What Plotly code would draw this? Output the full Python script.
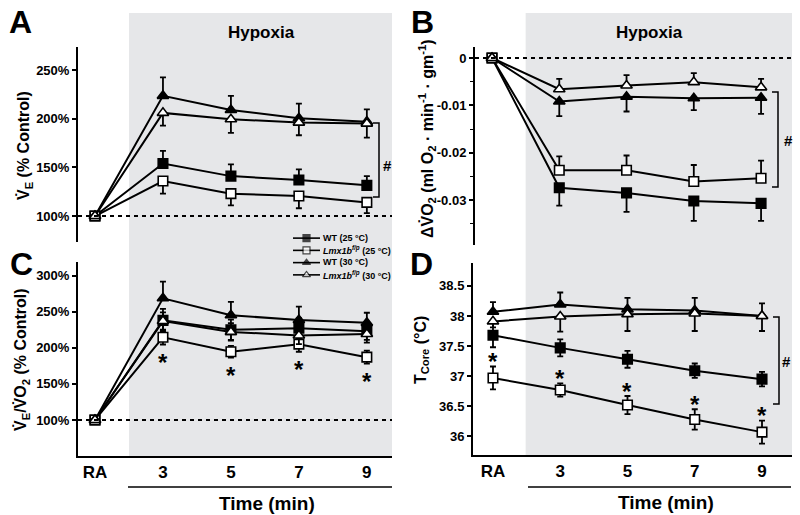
import plotly.graph_objects as go

W, H = 800, 515
FONT = "Liberation Sans, Arial, sans-serif"
GRAY = "#e6e7e9"


def px(x):
    return x / W


def py(y):
    return 1 - y / H


# ---------------- data ----------------
time_labels = ["RA", "3", "5", "7", "9"]
series_names = [
    "WT (25 °C)",
    "<i>Lmx1b</i><sup><i>f/p</i></sup> (25 °C)",
    "WT (30 °C)",
    "<i>Lmx1b</i><sup><i>f/p</i></sup> (30 °C)",
]

# Panel A: V_E (% control)
ve_wt25 = [100, 154, 141, 137, 131.5]
ve_wt25_err = [0, 13, 12, 11, 9.5]
ve_lmx25 = [100, 136, 123, 120.5, 114]
ve_lmx25_err = [0, 13, 12, 12.5, 11]
ve_wt30 = [100, 223.5, 209, 200.5, 197]
ve_wt30_err = [0, 19, 14.5, 15, 12.5]
ve_lmx30 = [100, 206, 199.5, 196, 195]
ve_lmx30_err = [0, 13, 14, 13, 14.5]

# Panel B: delta VO2
vo2_wt25 = [0, -0.0274, -0.0285, -0.0302, -0.0307]
vo2_wt25_err = [0, 0.0038, 0.0040, 0.0042, 0.0037]
vo2_lmx25 = [0, -0.0237, -0.0237, -0.0261, -0.0254]
vo2_lmx25_err = [0, 0.0029, 0.0031, 0.0035, 0.0037]
vo2_wt30 = [0, -0.0092, -0.0082, -0.0085, -0.0084]
vo2_wt30_err = [0, 0.0031, 0.0031, 0.0025, 0.0034]
vo2_lmx30 = [0, -0.0066, -0.0058, -0.0051, -0.0062]
vo2_lmx30_err = [0, 0.0022, 0.0022, 0.0019, 0.0018]

# Panel C: V_E/VO2 (% control)
ratio_wt25 = [100, 238, 225, 227, 223]
ratio_wt25_err = [0, 16, 14, 14, 12]
ratio_lmx25 = [100, 214.5, 194.5, 205, 187]
ratio_lmx25_err = [0, 10, 8, 10.5, 9]
ratio_wt30 = [100, 268.5, 245, 238.5, 234.5]
ratio_wt30_err = [0, 23, 18.5, 18.5, 14]
ratio_lmx30 = [100, 237, 222, 217, 219]
ratio_lmx30_err = [0, 12, 12, 12, 12]

# Panel D: core temperature
t_wt25 = [37.68, 37.47, 37.28, 37.09, 36.95]
t_wt25_err = [0.20, 0.14, 0.14, 0.12, 0.12]
t_lmx25 = [36.97, 36.77, 36.52, 36.28, 36.07]
t_lmx25_err = [0.19, 0.11, 0.15, 0.17, 0.19]
t_wt30 = [38.07, 38.19, 38.11, 38.09, 38.00]
t_wt30_err = [0.16, 0.20, 0.19, 0.21, 0.21]
t_lmx30 = [37.91, 37.99, 38.03, 38.04, 38.00]
t_lmx30_err = [0.10, 0.25, 0.28, 0.29, 0.25]

# significance markers (* vs WT at same temperature)
stars_c = ["3", "5", "7", "9"]
stars_d = ["RA", "3", "5", "7", "9"]

# ---------------- styles ----------------
SYMBOLS = ["square", "square", "triangle-up", "triangle-up"]
FILLS = ["black", "white", "black", "white"]
SIZES = [9.5, 9.5, 10, 10]

fig = go.Figure()


def add_series(xa, ya, vals, err, idx, direction):
    zeros = [0] * len(err)
    if direction == "up":
        ey = dict(type="data", symmetric=False, array=err, arrayminus=zeros)
    elif direction == "down":
        ey = dict(type="data", symmetric=False, array=zeros, arrayminus=err)
    else:
        ey = dict(type="data", symmetric=True, array=err)
    ey.update(color="black", thickness=1.8, width=3)
    fig.add_trace(go.Scatter(
        x=time_labels, y=vals, xaxis=xa, yaxis=ya, mode="lines+markers",
        line=dict(color="black", width=2),
        marker=dict(symbol=SYMBOLS[idx], size=SIZES[idx], color=FILLS[idx],
                    line=dict(color="black", width=1.6)),
        error_y=ey, showlegend=False, hoverinfo="skip"))


# Panel A
add_series("x", "y", ve_wt25, ve_wt25_err, 0, "up")
add_series("x", "y", ve_lmx25, ve_lmx25_err, 1, "down")
add_series("x", "y", ve_wt30, ve_wt30_err, 2, "up")
add_series("x", "y", ve_lmx30, ve_lmx30_err, 3, "down")
# Panel B
add_series("x2", "y2", vo2_wt25, vo2_wt25_err, 0, "down")
add_series("x2", "y2", vo2_lmx25, vo2_lmx25_err, 1, "up")
add_series("x2", "y2", vo2_wt30, vo2_wt30_err, 2, "down")
add_series("x2", "y2", vo2_lmx30, vo2_lmx30_err, 3, "up")
# Panel C
add_series("x3", "y3", ratio_wt25, ratio_wt25_err, 0, "both")
add_series("x3", "y3", ratio_lmx25, ratio_lmx25_err, 1, "both")
add_series("x3", "y3", ratio_wt30, ratio_wt30_err, 2, "up")
add_series("x3", "y3", ratio_lmx30, ratio_lmx30_err, 3, "both")
# Panel D
add_series("x4", "y4", t_wt25, t_wt25_err, 0, "both")
add_series("x4", "y4", t_lmx25, t_lmx25_err, 1, "both")
add_series("x4", "y4", t_wt30, t_wt30_err, 2, "up")
add_series("x4", "y4", t_lmx30, t_lmx30_err, 3, "down")

# legend samples (custom compact legend)
for i in range(4):
    fig.add_trace(go.Scatter(
        x=[0, 1, 2], y=[i, i, i], xaxis="x5", yaxis="y5", mode="lines+markers",
        line=dict(color="black", width=1.6),
        marker=dict(symbol=SYMBOLS[i], size=[0, 7, 0], color=FILLS[i],
                    line=dict(color="black", width=1.2)),
        showlegend=False, hoverinfo="skip"))

# ---------------- axes ----------------
tickfont_y = dict(family=FONT, size=13, color="black", weight="bold")
tickfont_x = dict(family=FONT, size=17, color="black", weight="bold")


def xaxis(left, right, rng, anchor, show):
    d = dict(domain=[px(left), px(right)], range=rng, type="category",
             categoryorder="array", categoryarray=time_labels, anchor=anchor,
             showgrid=False, zeroline=False, fixedrange=True)
    if show:
        d.update(showline=True, linecolor="black", linewidth=2, ticks="",
                 tickfont=tickfont_x, ticklabelstandoff=0)
    else:
        d.update(showline=False, showticklabels=False, ticks="")
    return d


def yaxis(top, bottom, rng, anchor, tickvals, ticktext, minor=None):
    d = dict(domain=[py(bottom), py(top)], range=rng, anchor=anchor,
             showline=True, linecolor="black", linewidth=2, ticks="outside",
             ticklen=4, tickwidth=1.5, tickcolor="black", tickvals=tickvals,
             ticktext=ticktext, tickfont=tickfont_y, showgrid=False,
             zeroline=False, fixedrange=True)
    if minor is not None:
        d["minor"] = dict(tickvals=minor, ticks="outside", ticklen=3,
                          tickwidth=1.2, tickcolor="black", showgrid=False)
    return d


a_ticks = [100, 150, 200, 250]
c_ticks = [50, 100, 150, 200, 250, 300]
b_ticks = [0, -0.01, -0.02, -0.03]
b_minor = [-0.005, -0.015, -0.025, -0.035]
d_ticks = [36, 36.5, 37, 37.5, 38, 38.5]

fig.update_layout(
    xaxis=xaxis(78, 392, [-0.25, 4.37], "y", False),
    yaxis=yaxis(47, 242, [73.3, 273.7], "x", a_ticks, [f"{v}%" for v in a_ticks]),
    xaxis2=xaxis(475, 792, [-0.253, 4.46], "y2", False),
    yaxis2=yaxis(47, 245, [-0.0395, 0.00232], "x2", b_ticks,
                 ["0", "-0.01", "-0.02", "-0.03"], b_minor),
    xaxis3=xaxis(78, 392, [-0.25, 4.37], "y3", True),
    yaxis3=yaxis(262, 456, [50.1, 318.8], "x3", c_ticks, [f"{v}%" for v in c_ticks]),
    xaxis4=xaxis(473, 792, [-0.297, 4.446], "y4", True),
    yaxis4=yaxis(263, 455, [35.69, 38.88], "x4", d_ticks,
                 ["36", "36.5", "37", "37.5", "38", "38.5"]),
    xaxis5=dict(domain=[px(293), px(320)], range=[0, 2], visible=False,
                anchor="y5", fixedrange=True),
    yaxis5=dict(domain=[py(281), py(232)], range=[3.5, -0.5], visible=False,
                anchor="x5", fixedrange=True),
)

# ---------------- shapes ----------------
shapes = []
# hypoxia shading, starting half-way between RA and minute 3
for xr in ["x", "x2"]:
    shapes.append(dict(type="rect", xref=xr, yref="paper", x0=0.5, x1=5,
                       y0=py(456), y1=py(13), fillcolor=GRAY, line=dict(width=0),
                       layer="below"))
# baseline dotted lines
for xr, yr, v in [("x domain", "y", 100), ("x2 domain", "y2", 0), ("x3 domain", "y3", 100)]:
    shapes.append(dict(type="line", xref=xr, yref=yr, x0=0, x1=1, y0=v, y1=v,
                       line=dict(color="black", width=2, dash="4px,4px")))
# "Time" underline
for x0, x1 in [(128, 392), (528, 791)]:
    shapes.append(dict(type="line", xref="paper", yref="paper", x0=px(x0), x1=px(x1),
                       y0=py(487), y1=py(487), line=dict(color="black", width=1.5)))
# significance brackets
for xv, yt, yb in [(379, 123, 197), (778, 92, 187), (779, 317, 404)]:
    path = (f"M {px(xv - 6)},{py(yt)} L {px(xv)},{py(yt)} "
            f"L {px(xv)},{py(yb)} L {px(xv - 6)},{py(yb)}")
    shapes.append(dict(type="path", xref="paper", yref="paper", path=path,
                       line=dict(color="black", width=1.5)))
fig.update_layout(shapes=shapes)

# ---------------- annotations ----------------
ann = []


def text(x, y, s, size, xanchor="center", yanchor="middle", angle=0, **kw):
    ann.append(dict(x=px(x), y=py(y), xref="paper", yref="paper", text=s,
                    showarrow=False, xanchor=xanchor, yanchor=yanchor,
                    textangle=angle,
                    font=dict(family=FONT, size=size, color="black", weight="bold"), **kw))


# panel letters
for letter, x, y in [("A", 20, 22), ("B", 422, 22), ("C", 21, 264), ("D", 421, 264)]:
    text(x, y, letter, 32)
# hypoxia labels
text(261, 32, "Hypoxia", 17)
text(649, 32, "Hypoxia", 17)
# axis titles
text(25, 146, "V̇<sub>E</sub> (% Control)", 16, angle=-90)
text(427, 138, "ΔV̇O<sub>2</sub> (ml O<sub>2</sub> · min<sup>-1</sup> · gm<sup>-1</sup>)", 16, angle=-90)
text(22, 360, "V̇<sub>E</sub>/V̇O<sub>2</sub> (% Control)", 16, angle=-90)
text(421, 350, "T<sub>Core</sub> (°C)", 16, angle=-90)
text(267, 503, "Time (min)", 19)
text(666, 502, "Time (min)", 19)
# hash marks
text(387, 166, "#", 15)
text(788, 140, "#", 15)
text(786, 361, "#", 15)
# legend labels
for i, name in enumerate(series_names):
    text(321, 238 + 12.2 * i, name, 9, xanchor="left")

# asterisks (x given as category index)
STAR_FONT = dict(family=FONT, size=24, color="black", weight="bold")
for lab in stars_c:
    i = time_labels.index(lab)
    ann.append(dict(x=i, y=ratio_lmx25[i] - ratio_lmx25_err[i], xref="x3", yref="y3",
                    text="*", showarrow=False, xanchor="center", yanchor="top",
                    yshift=-2, font=STAR_FONT))
for lab in stars_d:
    i = time_labels.index(lab)
    ann.append(dict(x=i, y=t_lmx25[i] + t_lmx25_err[i], xref="x4", yref="y4",
                    text="*", showarrow=False, xanchor="center", yanchor="bottom",
                    yshift=-10.5, font=STAR_FONT))

fig.update_layout(annotations=ann)

fig.update_layout(
    width=W, height=H, autosize=False,
    margin=dict(l=0, r=0, t=0, b=0),
    paper_bgcolor="white", plot_bgcolor="rgba(0,0,0,0)",
    showlegend=False,
)

fig.write_html("out.html", config={"displayModeBar": False},
               post_script="document.body.style.margin='0';document.body.style.padding='0';")
